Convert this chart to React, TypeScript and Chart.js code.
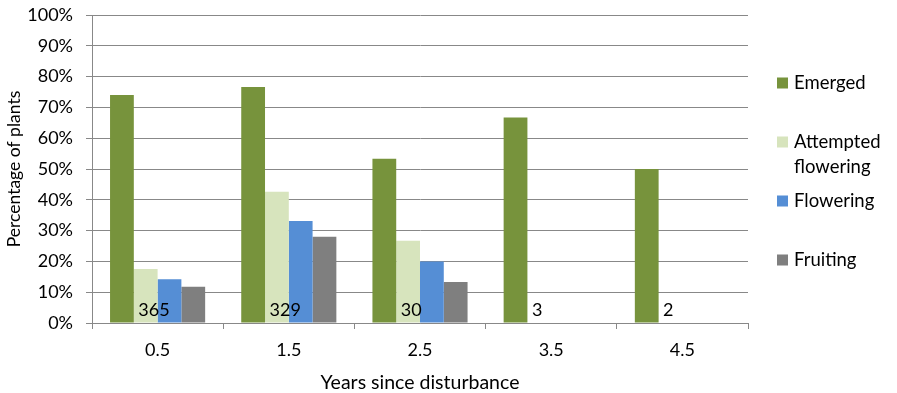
import React, { useEffect, useRef } from 'react';
import { Chart, registerables } from 'chart.js';

Chart.register(...registerables);

// Years since disturbance (category axis)
const years = ['0.5', '1.5', '2.5', '3.5', '4.5'];

// Percentage of plants in each stage
const emerged = [74.0, 76.6, 53.3, 66.7, 50.0];
const attemptedFlowering = [17.5, 42.6, 26.7, 0, 0];
const flowering = [14.2, 33.1, 20.0, 0, 0];
const fruiting = [11.8, 28.0, 13.3, 0, 0];

// Number of plants sampled in each age class
const sampleSizes = [365, 329, 30, 3, 2];

const seriesNames = ['Emerged', 'Attempted flowering', 'Flowering', 'Fruiting'];
const legendLines = [['Emerged'], ['Attempted', 'flowering'], ['Flowering'], ['Fruiting']];
const seriesColors = ['#77933C', '#D7E4BD', '#558ED5', '#7F7F7F'];

const FONT = 'Lato, "Open Sans", sans-serif';
const GRID = '#888888';

// Writes the sample size at the foot of each age class
const sampleSizePlugin = {
  id: 'sampleSizes',
  afterDatasetsDraw(chart: any) {
    const meta = chart.getDatasetMeta(1);
    const y0 = chart.scales.y.getPixelForValue(0);
    const ctx = chart.ctx;
    ctx.save();
    ctx.font = `18px ${FONT}`;
    ctx.fillStyle = '#000';
    ctx.textAlign = 'left';
    ctx.textBaseline = 'alphabetic';
    meta.data.forEach((bar: any, i: number) => {
      const left = bar.x - bar.width / 2;
      ctx.fillText(String(sampleSizes[i]), left + 4.5, y0 - 7);
    });
    ctx.restore();
  },
};

// Vertical legend on the right, with a wrapped label
const sideLegendPlugin = {
  id: 'sideLegend',
  afterDraw(chart: any) {
    const ctx = chart.ctx;
    const area = chart.chartArea;
    const markerX = area.right + 29;
    const textX = area.right + 46;
    const firstY = 83;
    const step = 59;
    const lineGap = 25;
    ctx.save();
    ctx.font = `18.5px ${FONT}`;
    ctx.textAlign = 'left';
    ctx.textBaseline = 'middle';
    chart.data.datasets.forEach((ds: any, i: number) => {
      const cy = firstY + i * step;
      ctx.fillStyle = ds.backgroundColor;
      ctx.fillRect(markerX, cy - 5.5, 11, 11);
      ctx.fillStyle = '#000';
      legendLines[i].forEach((line, j) => {
        ctx.fillText(line, textX, cy + j * lineGap);
      });
    });
    ctx.restore();
  },
};

export default function App() {
  const canvasRef = useRef<HTMLCanvasElement | null>(null);

  useEffect(() => {
    document.body.style.margin = '0';
    const canvas = canvasRef.current;
    if (!canvas) return;
    const series = [emerged, attemptedFlowering, flowering, fruiting];
    const chart = new Chart(canvas, {
      type: 'bar',
      data: {
        labels: years,
        datasets: series.map((values, i) => ({
          label: seriesNames[i],
          data: values,
          backgroundColor: seriesColors[i],
          borderWidth: 0,
          categoryPercentage: 0.725,
          barPercentage: 1.0,
        })),
      },
      options: {
        animation: false,
        responsive: false,
        maintainAspectRatio: false,
        layout: { padding: { left: 0, top: 15, right: 149, bottom: 0 } },
        plugins: {
          legend: { display: false },
          tooltip: { enabled: false },
        },
        scales: {
          x: {
            grid: {
              offset: true,
              drawOnChartArea: false,
              drawTicks: true,
              tickLength: 6,
              color: GRID,
            },
            border: { color: GRID },
            ticks: { color: '#000', font: { family: FONT, size: 18 }, padding: 10 },
            title: {
              display: true,
              text: 'Years since disturbance',
              color: '#000',
              font: { family: FONT, size: 19.5 },
              padding: { top: 0, bottom: -1 },
            },
            afterFit(scale: any) {
              scale.height = 70;
            },
          },
          y: {
            min: 0,
            max: 100,
            grid: { color: GRID, drawTicks: true, tickLength: 6 },
            border: { color: GRID },
            ticks: {
              stepSize: 10,
              color: '#000',
              font: { family: FONT, size: 18 },
              padding: 13,
              callback: (v: any) => `${v}%`,
            },
            title: {
              display: true,
              text: 'Percentage of plants',
              color: '#000',
              font: { family: FONT, size: 17.5 },
              padding: { top: 4, bottom: 0 },
            },
            afterFit(scale: any) {
              scale.width = 92;
              scale.paddingTop = 0;
              scale.paddingBottom = 0;
            },
          },
        },
      },
      plugins: [sampleSizePlugin, sideLegendPlugin],
    });
    return () => chart.destroy();
  }, []);

  return (
    <div style={{ width: 897, height: 393 }}>
      <canvas ref={canvasRef} width={897} height={393} />
    </div>
  );
}
